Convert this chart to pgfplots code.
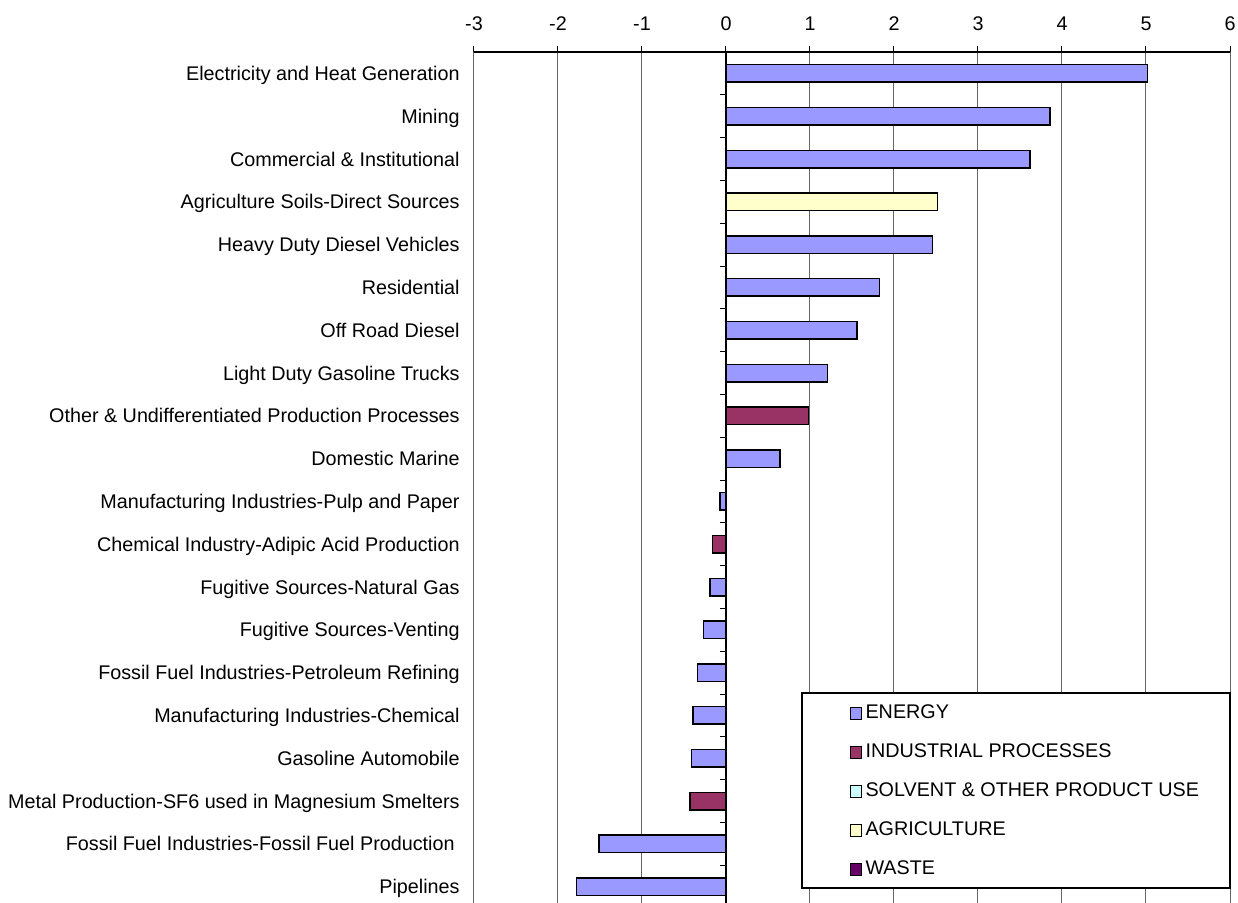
\documentclass[border=0pt]{standalone}
\usepackage{pgfplots}
\pgfplotsset{compat=1.18}
\usepackage{fontspec}
\setmainfont{Liberation Sans}
\definecolor{cEnergy}{HTML}{9999FF}
\definecolor{cInd}{HTML}{993366}
\definecolor{cSolv}{HTML}{CCFFFF}
\definecolor{cAgri}{HTML}{FFFFCC}
\definecolor{cWaste}{HTML}{660066}
\newcommand{\chartfont}{\fontsize{9.88pt}{11.8pt}\selectfont}
\begin{document}
\begin{tikzpicture}
\useasboundingbox (0,0) rectangle (619pt,-451.5pt);
\begin{axis}[
  at={(237pt,-26pt)}, anchor=north west,
  scale only axis, width=378pt, height=425.5pt,
  xbar, bar shift=0pt, bar width=8.75pt,
  xmin=-3, xmax=6, ymin=0.5, ymax=20.383, y dir=reverse,
  axis x line*=top, axis y line*=left,
  y axis line style={draw=none},
  x axis line style={black, line width=0.6pt, -},
  xtick={-3,-2,-1,0,1,2,3,4,5,6}, xticklabels={-3,-2,-1,0,1,2,3,4,5,6},
  xmajorgrids, grid style={black!60, line width=0.5pt},
  xtick style={black, line width=0.5pt}, tick align=outside, major tick length=3pt,
  ytick={1,...,20}, ytick style={draw=none},
  yticklabels={Electricity and Heat Generation, Mining, Commercial \& Institutional,
    Agriculture Soils-Direct Sources, Heavy Duty Diesel Vehicles, Residential,
    Off Road Diesel, Light Duty Gasoline Trucks,
    Other \& Undifferentiated Production Processes, Domestic Marine,
    Manufacturing Industries-Pulp and Paper, Chemical Industry-Adipic Acid Production,
    Fugitive Sources-Natural Gas, Fugitive Sources-Venting,
    Fossil Fuel Industries-Petroleum Refining, Manufacturing Industries-Chemical,
    Gasoline Automobile, Metal Production-SF6 used in Magnesium Smelters,
    {Fossil Fuel Industries-Fossil Fuel Production\hspace*{2.5pt}}, Pipelines},
  tick label style={font=\chartfont},
  yticklabel style={anchor=base east, inner xsep=0pt, xshift=-4pt, yshift=-3.5pt},
  xticklabel style={anchor=base, yshift=8pt},
  legend style={font=\chartfont, draw=none, fill=none,
    at={(axis description cs:0.4965,0.2338)}, anchor=north west,
    inner sep=0pt, row sep=10.5pt,
    nodes={inner ysep=0pt, inner xsep=1.6pt, text height=7pt, text depth=2pt}},
  legend cell align=left,
  legend image code/.code={\draw[#1, draw=black, line width=0.5pt] (0pt,-2.9pt) rectangle (5.8pt,2.9pt);},
  every axis plot/.append style={draw=black, line width=0.75pt},
  clip=false,
]
\draw[fill=white, draw=black, line width=0.6pt] (axis description cs:0.4339,0.2468) rectangle (axis description cs:1,0.0176);
\draw[black, line width=0.6pt] (axis cs:0,0.5) -- (axis cs:0,20.383);
\pgfplotsinvokeforeach{1.5,2.5,3.5,4.5,5.5,6.5,7.5,8.5,9.5,10.5,11.5,12.5,13.5,14.5,15.5,16.5,17.5,18.5,19.5}{
  \draw[black, line width=0.5pt] (axis cs:0,#1) -- ++(-3pt,0pt);
}
\addplot[fill=cEnergy] coordinates {
 (5.02,1) (3.86,2) (3.62,3) (2.46,5) (1.83,6) (1.56,7) (1.21,8) (0.64,10)
 (-0.07,11) (-0.19,13) (-0.27,14) (-0.34,15) (-0.39,16) (-0.41,17) (-1.51,19) (-1.78,20)};
\addlegendentry{ENERGY}
\addplot[fill=cInd] coordinates {(0.98,9) (-0.16,12) (-0.43,18)};
\addlegendentry{INDUSTRIAL PROCESSES}
\addlegendimage{fill=cSolv}
\addlegendentry{SOLVENT \& OTHER PRODUCT USE}
\addplot[fill=cAgri] coordinates {(2.52,4)};
\addlegendentry{AGRICULTURE}
\addlegendimage{fill=cWaste}
\addlegendentry{WASTE}
\end{axis}
\end{tikzpicture}
\end{document}
